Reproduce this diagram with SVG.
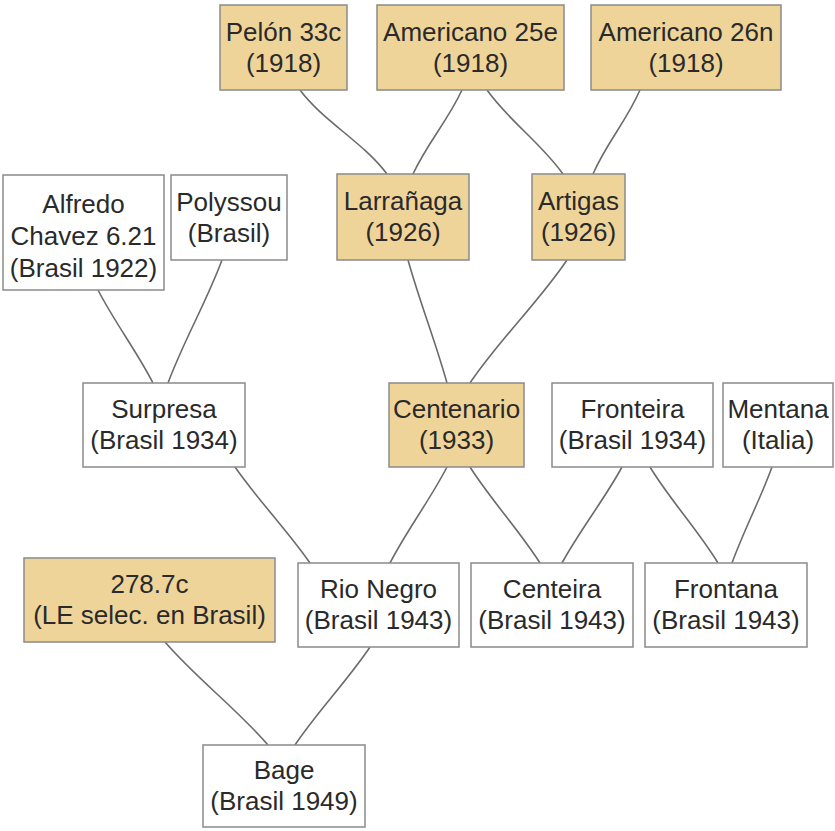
<svg xmlns="http://www.w3.org/2000/svg" width="835" height="831" viewBox="0 0 835 831">
  <style>
    .box { stroke: #8a8a8a; stroke-width: 1.5; }
    .tan { fill: #efd49a; }
    .white { fill: #ffffff; }
    .lbl { font-family: "Liberation Sans", Arial, sans-serif; font-size: 26px; fill: #2a2a2a; text-anchor: middle; }
    .edge { fill: none; stroke: #6b6b6b; stroke-width: 1.6; }
  </style>
  <rect width="835" height="831" fill="#ffffff"/>

  <!-- pedigree connectors: parent bottom to offspring top -->
  <g id="connectors">
    <path class="edge" d="M300 90 C 324 122, 363 142, 387 174"/>
    <path class="edge" d="M462 90 C 447 122, 428 142, 413 174"/>
    <path class="edge" d="M487 90 C 510 122, 540 142, 563 174"/>
    <path class="edge" d="M640 90 C 626 122, 607 142, 593 174"/>
    <path class="edge" d="M98 290 C 115 323, 136 350, 153 383"/>
    <path class="edge" d="M222 260 C 206 303, 184 340, 168 383"/>
    <path class="edge" d="M408 260 C 420 303, 435 340, 447 383"/>
    <path class="edge" d="M567 260 C 538 303, 499 340, 470 383"/>
    <path class="edge" d="M235 467 C 258 500, 287 530, 310 563"/>
    <path class="edge" d="M447 467 C 430 500, 407 530, 390 563"/>
    <path class="edge" d="M470 467 C 491 500, 519 530, 540 563"/>
    <path class="edge" d="M622 467 C 604 500, 580 530, 562 563"/>
    <path class="edge" d="M650 467 C 670 500, 698 530, 718 563"/>
    <path class="edge" d="M772 467 C 760 500, 744 530, 732 563"/>
    <path class="edge" d="M165 642 C 196 678, 237 709, 268 745"/>
    <path class="edge" d="M370 647 C 348 680, 317 712, 295 745"/>
  </g>

  <!-- 1918 founders -->
  <g id="pelon33c">
    <rect class="box tan" x="220" y="5" width="127" height="85"/>
    <text class="lbl" x="283.5" y="41">Pelón 33c</text>
    <text class="lbl" x="283.5" y="72">(1918)</text>
  </g>
  <g id="americano25e">
    <rect class="box tan" x="377" y="5" width="187" height="85"/>
    <text class="lbl" x="470.5" y="41">Americano 25e</text>
    <text class="lbl" x="470.5" y="72">(1918)</text>
  </g>
  <g id="americano26n">
    <rect class="box tan" x="591" y="5" width="190" height="85"/>
    <text class="lbl" x="686" y="41">Americano 26n</text>
    <text class="lbl" x="686" y="72">(1918)</text>
  </g>

  <!-- second generation -->
  <g id="alfredochavez">
    <rect class="box white" x="3" y="175" width="161" height="115"/>
    <text class="lbl" x="83.5" y="213">Alfredo</text>
    <text class="lbl" x="83.5" y="245">Chavez 6.21</text>
    <text class="lbl" x="83.5" y="277">(Brasil 1922)</text>
  </g>
  <g id="polyssou">
    <rect class="box white" x="171" y="175" width="116" height="85"/>
    <text class="lbl" x="229" y="211">Polyssou</text>
    <text class="lbl" x="229" y="242">(Brasil)</text>
  </g>
  <g id="larranaga">
    <rect class="box tan" x="337" y="174" width="132" height="86"/>
    <text class="lbl" x="403" y="210">Larrañaga</text>
    <text class="lbl" x="403" y="241">(1926)</text>
  </g>
  <g id="artigas">
    <rect class="box tan" x="532" y="174" width="93" height="86"/>
    <text class="lbl" x="578.5" y="210">Artigas</text>
    <text class="lbl" x="578.5" y="241">(1926)</text>
  </g>

  <!-- third generation -->
  <g id="surpresa">
    <rect class="box white" x="83" y="383" width="162" height="84"/>
    <text class="lbl" x="164" y="418">Surpresa</text>
    <text class="lbl" x="164" y="449">(Brasil 1934)</text>
  </g>
  <g id="centenario">
    <rect class="box tan" x="389" y="383" width="135" height="84"/>
    <text class="lbl" x="456.5" y="418">Centenario</text>
    <text class="lbl" x="456.5" y="449">(1933)</text>
  </g>
  <g id="fronteira">
    <rect class="box white" x="552" y="383" width="161" height="84"/>
    <text class="lbl" x="632.5" y="418">Fronteira</text>
    <text class="lbl" x="632.5" y="449">(Brasil 1934)</text>
  </g>
  <g id="mentana">
    <rect class="box white" x="723" y="383" width="110" height="84"/>
    <text class="lbl" x="778" y="418">Mentana</text>
    <text class="lbl" x="778" y="449">(Italia)</text>
  </g>

  <!-- fourth generation -->
  <g id="lineage2787c">
    <rect class="box tan" x="24" y="558" width="251" height="84"/>
    <text class="lbl" x="149.5" y="593">278.7c</text>
    <text class="lbl" x="149.5" y="624">(LE selec. en Brasil)</text>
  </g>
  <g id="rionegro">
    <rect class="box white" x="298" y="563" width="161" height="84"/>
    <text class="lbl" x="378.5" y="598">Rio Negro</text>
    <text class="lbl" x="378.5" y="629">(Brasil 1943)</text>
  </g>
  <g id="centeira">
    <rect class="box white" x="471" y="563" width="162" height="84"/>
    <text class="lbl" x="552" y="598">Centeira</text>
    <text class="lbl" x="552" y="629">(Brasil 1943)</text>
  </g>
  <g id="frontana">
    <rect class="box white" x="645" y="563" width="162" height="84"/>
    <text class="lbl" x="726" y="598">Frontana</text>
    <text class="lbl" x="726" y="629">(Brasil 1943)</text>
  </g>

  <!-- final cultivar -->
  <g id="bage">
    <rect class="box white" x="203" y="745" width="162" height="82"/>
    <text class="lbl" x="284" y="779">Bage</text>
    <text class="lbl" x="284" y="810">(Brasil 1949)</text>
  </g>
</svg>
